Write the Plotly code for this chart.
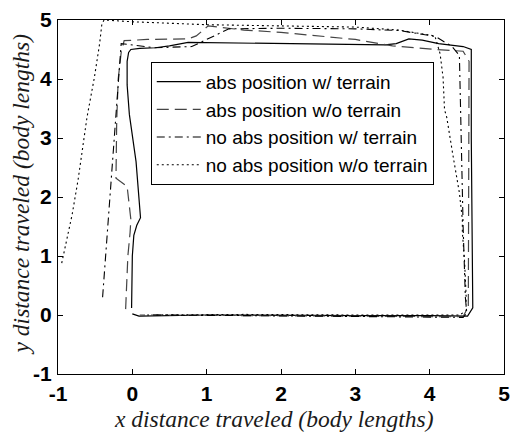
import plotly.graph_objects as go

# Trajectories (body lengths)
solid_x = [-0.01, 0.0, 0.02, 0.06, 0.11, 0.05, -0.04, -0.07, -0.07, -0.05, -0.02, 0.1, 0.31, 0.5, 0.75, 1.5, 2.5, 3.4, 3.55, 3.72, 3.9, 4.12, 4.45, 4.56, 4.56, 4.57, 4.58, 4.51, 4.0, 3.0, 2.0, 1.0, 0.09, 0.0]
solid_y = [0.12, 1.0, 1.35, 1.52, 1.65, 2.6, 3.4, 3.9, 4.3, 4.45, 4.5, 4.52, 4.53, 4.56, 4.62, 4.61, 4.6, 4.58, 4.6, 4.68, 4.66, 4.6, 4.55, 4.5, 3.0, 1.0, 0.12, -0.02, -0.01, -0.01, 0.0, 0.0, -0.02, 0.02]

dash_x = [-0.09, -0.06, -0.03, -0.02, -0.07, -0.22, -0.21, -0.19, -0.15, -0.11, 0.2, 0.5, 0.75, 0.86, 1.02, 1.5, 2.0, 3.0, 3.5, 4.1, 4.45, 4.53, 4.53, 4.52, 4.45, 3.0, 1.5, 0.1]
dash_y = [0.1, 1.0, 1.4, 1.62, 2.18, 2.32, 3.3, 4.0, 4.45, 4.65, 4.67, 4.67, 4.68, 4.73, 4.9, 4.83, 4.79, 4.67, 4.56, 4.5, 4.47, 4.3, 2.0, 0.15, -0.03, -0.02, 0.0, 0.0]

dashdot_x = [-0.4, -0.36, -0.32, -0.29, -0.24, -0.2, -0.17, -0.15, 0.3, 0.8, 1.3, 2.0, 3.0, 3.6, 4.08, 4.3, 4.4, 4.42, 4.45, 4.48, 4.5, 4.45, 3.0, 1.5, 0.2]
dashdot_y = [0.3, 1.0, 1.68, 2.29, 3.07, 3.9, 4.35, 4.6, 4.53, 4.55, 4.85, 4.86, 4.85, 4.82, 4.72, 4.55, 4.4, 3.0, 1.5, 0.3, 0.03, -0.04, -0.02, -0.01, 0.0]

dot_x = [-0.95, -0.81, -0.73, -0.67, -0.61, -0.51, -0.44, -0.41, -0.38, 0.0, 0.5, 1.0, 2.0, 3.0, 3.58, 4.07, 4.14, 4.18, 4.2, 4.23, 4.31, 4.4, 4.44, 4.44, 4.47, 4.49, 4.49, 4.4, 3.0, 1.5, 0.3]
dot_y = [0.88, 1.7, 2.29, 2.85, 3.35, 4.03, 4.6, 4.93, 5.0, 4.97, 4.95, 4.92, 4.9, 4.88, 4.83, 4.73, 4.43, 4.03, 3.48, 3.35, 2.73, 2.07, 1.62, 1.4, 0.9, 0.35, 0.07, 0.0, 0.0, 0.01, 0.0]

names = ["abs position w/ terrain", "abs position w/o terrain",
         "no abs position w/ terrain", "no abs position w/o terrain"]

x_ticks = [-1, 0, 1, 2, 3, 4, 5]
y_ticks = [-1, 0, 1, 2, 3, 4, 5]

fig = go.Figure()
fig.add_trace(go.Scatter(x=solid_x, y=solid_y, mode="lines", name=names[0],
                         line=dict(color="black", width=1.2, dash="solid")))
fig.add_trace(go.Scatter(x=dash_x, y=dash_y, mode="lines", name=names[1],
                         line=dict(color="#444444", width=1.2, dash="12px,6px")))
fig.add_trace(go.Scatter(x=dashdot_x, y=dashdot_y, mode="lines", name=names[2],
                         line=dict(color="black", width=1.1, dash="8px,4px,2px,4px")))
fig.add_trace(go.Scatter(x=dot_x, y=dot_y, mode="lines", name=names[3],
                         line=dict(color="black", width=1.1, dash="2px,3px")))

axis_common = dict(showgrid=False, zeroline=False, showline=True, linecolor="black",
                   linewidth=1, mirror="ticks", ticks="inside", ticklen=5,
                   tickcolor="black",
                   tickfont=dict(family="Liberation Sans, Arial", size=21, color="black",
                                 weight="bold"))

fig.update_xaxes(range=[-1, 5], tickvals=x_ticks, ticktext=[str(v) for v in x_ticks],
                 ticklabelstandoff=1, **axis_common)
fig.update_yaxes(range=[-1, 5], tickvals=y_ticks, ticktext=[str(v) for v in y_ticks],
                 ticklabelstandoff=1, **axis_common)

title_font = dict(family="Liberation Serif, Times New Roman", size=23.5, color="#1a1a1a",
                  style="italic")
fig.add_annotation(text="x distance traveled (body lengths)", xref="paper", yref="paper",
                   x=0.485, y=-0.085, xanchor="center", yanchor="top",
                   showarrow=False, font=title_font)
fig.add_annotation(text="y distance traveled (body lengths)", xref="paper", yref="paper",
                   x=-0.083, y=0.51, xanchor="center", yanchor="middle", textangle=-90,
                   showarrow=False, font=title_font)

fig.update_layout(
    width=518, height=432,
    margin=dict(l=58, r=8, t=14, b=58),
    paper_bgcolor="white", plot_bgcolor="white",
    legend=dict(x=0.208, y=0.882, xanchor="left", yanchor="top",
                bgcolor="white", bordercolor="black", borderwidth=1,
                itemwidth=44,
                font=dict(family="Liberation Sans, Arial", size=19, color="black"),
                tracegroupgap=0),
)

fig.write_html("out.html")
